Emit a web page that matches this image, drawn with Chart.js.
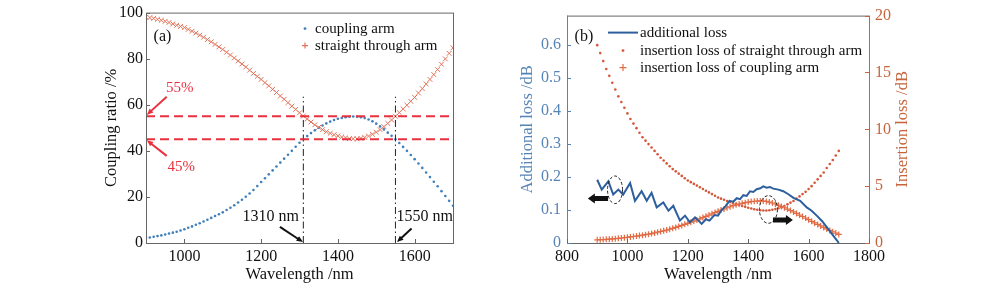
<!DOCTYPE html>
<html>
<head>
<meta charset="utf-8">
<script src="https://cdn.jsdelivr.net/npm/chart.js@4.4.1/dist/chart.umd.min.js"></script>
<style>
  html, body { margin: 0; padding: 0; background: #fff; }
  #wrap { position: relative; width: 1000px; height: 288px; }
  canvas { position: absolute; top: 0; }
</style>
</head>
<body>
<div id="wrap">
  <canvas id="chartA" width="470" height="288" style="left:0"></canvas>
  <canvas id="chartB" width="530" height="288" style="left:470px"></canvas>
</div>
<script>
// ---------- panel (a) data ----------
const wavelengths = [
  900, 910, 920, 930, 940, 950, 960, 970, 980, 990,
  1000, 1010, 1020, 1030, 1040, 1050, 1060, 1070, 1080, 1090,
  1100, 1110, 1120, 1130, 1140, 1150, 1160, 1170, 1180, 1190,
  1200, 1210, 1220, 1230, 1240, 1250, 1260, 1270, 1280, 1290,
  1300, 1310, 1320, 1330, 1340, 1350, 1360, 1370, 1380, 1390,
  1400, 1410, 1420, 1430, 1440, 1450, 1460, 1470, 1480, 1490,
  1500, 1510, 1520, 1530, 1540, 1550, 1560, 1570, 1580, 1590,
  1600, 1610, 1620, 1630, 1640, 1650, 1660, 1670, 1680, 1690,
  1700
];
const couplingArm = [
  2.2, 2.4, 2.7, 3.0, 3.3, 3.7, 4.1, 4.5, 4.9, 5.4,
  6.0, 6.6, 7.2, 7.9, 8.6, 9.3, 10.1, 10.9, 11.7, 12.5,
  13.3, 14.3, 15.3, 16.4, 17.6, 18.8, 20.1, 21.5, 23.0, 24.7,
  26.5, 28.1, 29.8, 31.5, 33.2, 34.9, 36.6, 38.3, 40.0, 41.8,
  43.5, 45.0, 46.4, 47.7, 48.9, 50.0, 51.0, 51.9, 52.7, 53.4,
  53.9, 54.3, 54.6, 54.8, 54.9, 54.8, 54.6, 54.2, 53.6, 52.8,
  51.8, 50.6, 49.3, 47.9, 46.5, 45.0, 43.4, 41.7, 40.0, 38.2,
  36.4, 34.5, 32.6, 30.6, 28.6, 26.6, 24.6, 22.5, 20.4, 18.3,
  16.2
];
const straightArm = [
  98.0, 97.8, 97.5, 97.1, 96.7, 96.2, 95.7, 95.1, 94.5, 94.0,
  93.5, 92.7, 91.9, 91.1, 90.2, 89.3, 88.3, 87.3, 86.2, 85.1,
  84.0, 82.8, 81.6, 80.3, 79.0, 77.7, 76.4, 75.0, 73.6, 72.3,
  71.0, 69.6, 68.2, 66.7, 65.3, 63.8, 62.4, 60.9, 59.4, 58.0,
  56.5, 55.1, 53.8, 52.5, 51.3, 50.2, 49.2, 48.3, 47.6, 47.0,
  46.5, 46.0, 45.6, 45.3, 45.2, 45.2, 45.4, 45.8, 46.4, 47.2,
  48.1, 49.2, 50.5, 51.9, 53.4, 55.0, 56.6, 58.2, 59.8, 61.5,
  63.2, 65.1, 67.0, 69.0, 71.0, 73.1, 75.3, 77.6, 79.9, 82.3,
  84.7
];
const xRangeA = [900, 1700];
const ratioLevels = [55, 45];       // dashed red lines
const markedWl = [1310, 1550];      // dash-dot verticals
const markTop = 63.5;
const xTicksA = [1000, 1200, 1400, 1600];
const yTicksA = [0, 20, 40, 60, 80, 100];

// ---------- panel (b) data ----------
const alWavelengths = [
  900, 915, 937, 953, 970, 986, 1009, 1025, 1047, 1064,
  1080, 1097, 1119, 1136, 1152, 1174, 1191, 1207, 1224, 1246,
  1260, 1272, 1288, 1300, 1312, 1325, 1338, 1350, 1362, 1373,
  1384, 1395, 1406, 1417, 1428, 1440, 1450, 1461, 1472, 1483,
  1500, 1516, 1533, 1550, 1572, 1594, 1610, 1627, 1645, 1660,
  1677, 1693, 1700
];
const additionalLoss = [
  0.192, 0.162, 0.187, 0.147, 0.162, 0.147, 0.182, 0.128, 0.157, 0.128,
  0.152, 0.108, 0.123, 0.098, 0.113, 0.068, 0.083, 0.063, 0.078, 0.058,
  0.072, 0.068, 0.085, 0.083, 0.100, 0.112, 0.128, 0.125, 0.136, 0.133,
  0.145, 0.143, 0.157, 0.155, 0.163, 0.166, 0.172, 0.168, 0.170, 0.165,
  0.162, 0.157, 0.148, 0.137, 0.128, 0.108, 0.098, 0.083, 0.066, 0.048,
  0.028, 0.009, 0.0
];
const ilStraight = [
  17.4, 16.7, 16.0, 15.3, 14.7, 14.1, 13.5, 12.9, 12.4, 11.9,
  11.4, 10.9, 10.5, 10.1, 9.7, 9.3, 9.0, 8.7, 8.4, 8.1,
  7.8, 7.5, 7.25, 7.0, 6.75, 6.5, 6.3, 6.1, 5.9, 5.7,
  5.5, 5.35, 5.2, 5.05, 4.9, 4.75, 4.6, 4.45, 4.3, 4.15,
  4.0, 3.9, 3.8, 3.7, 3.6, 3.5, 3.42, 3.34, 3.26, 3.18,
  3.1, 3.03, 2.97, 2.92, 2.88, 2.86, 2.86, 2.88, 2.92, 2.98,
  3.05, 3.15, 3.25, 3.4, 3.55, 3.7, 3.9, 4.1, 4.3, 4.5,
  4.75, 5.0, 5.3, 5.6, 5.9, 6.2, 6.6, 6.95, 7.3, 7.7,
  8.1
];
const ilCoupling = [
  0.28, 0.29, 0.30, 0.32, 0.34, 0.36, 0.38, 0.41, 0.44, 0.47,
  0.50, 0.53, 0.57, 0.61, 0.65, 0.69, 0.73, 0.78, 0.83, 0.89,
  0.95, 1.01, 1.07, 1.14, 1.21, 1.29, 1.37, 1.46, 1.55, 1.64,
  1.73, 1.83, 1.93, 2.03, 2.13, 2.24, 2.35, 2.46, 2.57, 2.68,
  2.79, 2.90, 3.00, 3.10, 3.19, 3.28, 3.36, 3.43, 3.49, 3.55,
  3.60, 3.64, 3.67, 3.69, 3.70, 3.69, 3.66, 3.60, 3.52, 3.43,
  3.33, 3.22, 3.10, 2.98, 2.86, 2.73, 2.60, 2.46, 2.33, 2.19,
  2.05, 1.91, 1.77, 1.63, 1.50, 1.37, 1.24, 1.11, 0.99, 0.87,
  0.75
];
const xTicksB = [800, 1000, 1200, 1400, 1600, 1800];
const yTicksBL = [0, 0.1, 0.2, 0.3, 0.4, 0.5, 0.6];
const yTicksBR = [0, 5, 10, 15, 20];

// ---------- styling ----------
const SERIF = "'Liberation Serif', 'DejaVu Serif', serif";
const BLUE_DOT = '#3f7fba';
const ORANGE_X = '#e2735a';
const RED_DASH = '#e8313f';
const BLUE_LINE = '#2d5f9e';
const BLUE_AXIS = '#5784b6';
const ORANGE_DOT = '#d4573a';
const ORANGE_PLUS = '#e26b45';
const ORANGE_AXIS = '#c6643c';

const pts = (xs, ys) => xs.map((x, i) => ({ x: x, y: ys[i] }));
const fixTicks = list => scale => { scale.ticks = list.map(v => ({ value: v })); };

function arrow(ctx, x1, y1, x2, y2, color) {
  const ang = Math.atan2(y2 - y1, x2 - x1);
  const head = 7;
  ctx.strokeStyle = color;
  ctx.fillStyle = color;
  ctx.lineWidth = 2;
  ctx.beginPath();
  ctx.moveTo(x1, y1);
  ctx.lineTo(x2 - Math.cos(ang) * head * 0.8, y2 - Math.sin(ang) * head * 0.8);
  ctx.stroke();
  ctx.beginPath();
  ctx.moveTo(x2, y2);
  ctx.lineTo(x2 - head * Math.cos(ang - 0.4), y2 - head * Math.sin(ang - 0.4));
  ctx.lineTo(x2 - head * Math.cos(ang + 0.4), y2 - head * Math.sin(ang + 0.4));
  ctx.closePath();
  ctx.fill();
}

// fat black arrow used in panel (b)
function blockArrow(ctx, xTail, xTip, y) {
  const dir = Math.sign(xTip - xTail);
  const headLen = 7;
  const xNeck = xTip - dir * headLen;
  ctx.fillStyle = '#111';
  ctx.beginPath();
  ctx.moveTo(xTail, y - 2.5);
  ctx.lineTo(xNeck, y - 2.5);
  ctx.lineTo(xNeck, y - 5);
  ctx.lineTo(xTip, y);
  ctx.lineTo(xNeck, y + 5);
  ctx.lineTo(xNeck, y + 2.5);
  ctx.lineTo(xTail, y + 2.5);
  ctx.closePath();
  ctx.fill();
}

function dashedEllipse(ctx, cx, cy, rx, ry) {
  ctx.save();
  ctx.strokeStyle = '#222';
  ctx.lineWidth = 1;
  ctx.setLineDash([3, 2]);
  ctx.beginPath();
  ctx.ellipse(cx, cy, rx, ry, 0, 0, Math.PI * 2);
  ctx.stroke();
  ctx.restore();
}

function plus(ctx, x, y, r, color) {
  ctx.strokeStyle = color;
  ctx.lineWidth = 1.2;
  ctx.beginPath();
  ctx.moveTo(x - r, y); ctx.lineTo(x + r, y);
  ctx.moveTo(x, y - r); ctx.lineTo(x, y + r);
  ctx.stroke();
}

function innerTicks(ctx, scale, edge, color) {
  ctx.strokeStyle = color;
  ctx.lineWidth = 1;
  ctx.beginPath();
  scale.ticks.forEach(t => {
    const p = Math.round(scale.getPixelForValue(t.value)) + 0.5;
    if (edge === 'bottom') { ctx.moveTo(p, scale.top); ctx.lineTo(p, scale.top - 4); }
    if (edge === 'left') { ctx.moveTo(scale.right, p); ctx.lineTo(scale.right + 4, p); }
    if (edge === 'right') { ctx.moveTo(scale.left, p); ctx.lineTo(scale.left - 4, p); }
  });
  ctx.stroke();
}

// ---------- panel (a) ----------
const decorA = {
  id: 'decorA',
  afterDraw(chart) {
    const { ctx, chartArea: a } = chart;
    const sx = chart.scales.x, sy = chart.scales.y;
    const X = v => sx.getPixelForValue(v), Y = v => sy.getPixelForValue(v);
    ctx.save();
    ctx.strokeStyle = '#666';
    ctx.lineWidth = 1;
    ctx.strokeRect(a.left + 0.5, a.top + 0.5, a.right - a.left, a.bottom - a.top);
    innerTicks(ctx, sx, 'bottom', '#666');
    innerTicks(ctx, sy, 'left', '#666');

    ctx.textAlign = 'center';
    ctx.textBaseline = 'middle';
    ctx.fillStyle = '#111';
    ctx.font = '16px ' + SERIF;
    ctx.fillText('(a)', X(943), Y(89.7));

    // 55% / 45% labels
    ctx.font = '15px ' + SERIF;
    ctx.fillStyle = RED_DASH;
    ctx.fillText('55%', X(988), Y(67.4));
    ctx.fillText('45%', X(992), Y(33));
    arrow(ctx, X(954), Y(63.5), X(902), Y(55.6), RED_DASH);
    arrow(ctx, X(954), Y(37.8), X(902), Y(44.6), RED_DASH);

    // wavelength markers
    ctx.font = '16px ' + SERIF;
    ctx.fillStyle = '#111';
    ctx.fillText('1310 nm', X(1225), Y(11.3));
    ctx.fillText('1550 nm', X(1626), Y(11.3));
    arrow(ctx, X(1249), Y(7.0), X(1309), Y(0.4), '#111');
    arrow(ctx, X(1592), Y(6.3), X(1554), Y(0.4), '#111');

    // legend
    const lx = a.right - 148, ly = a.top + 16;
    ctx.textAlign = 'left';
    ctx.font = '15px ' + SERIF;
    ctx.fillStyle = BLUE_DOT;
    ctx.beginPath(); ctx.arc(lx, ly, 1.4, 0, Math.PI * 2); ctx.fill();
    plus(ctx, lx, ly + 17, 3, ORANGE_X);
    ctx.fillStyle = '#111';
    ctx.fillText(chart.data.datasets[3].label, lx + 10, ly);
    ctx.fillText(chart.data.datasets[2].label, lx + 10, ly + 17);
    ctx.restore();
  }
};

const tickFont = { family: SERIF, size: 16 };
const titleFont = { family: SERIF, size: 16.5 };

new Chart(document.getElementById('chartA'), {
  type: 'line',
  data: {
    datasets: [
      ...ratioLevels.map(v => ({
        label: 'level ' + v, data: pts(xRangeA, [v, v]), borderColor: RED_DASH,
        borderWidth: 2, borderDash: [9, 5], pointRadius: 0, order: 0
      })),
      { label: 'straight through arm', data: pts(wavelengths, straightArm), showLine: false,
        pointStyle: 'crossRot', pointRadius: 3.4, borderColor: ORANGE_X, pointBorderWidth: 1, order: 2 },
      { label: 'coupling arm', data: pts(wavelengths, couplingArm), showLine: false,
        pointStyle: 'circle', pointRadius: 1.3, backgroundColor: BLUE_DOT, borderColor: BLUE_DOT,
        pointBorderWidth: 0, order: 3 },
      ...markedWl.map(w => ({
        label: w + ' nm', data: pts([w, w], [0, markTop]), borderColor: '#222',
        borderWidth: 1, borderDash: [7, 3, 1.5, 3], pointRadius: 0, order: 1
      }))
    ]
  },
  options: {
    responsive: false,
    animation: false,
    layout: { padding: { top: 10, right: 17, left: 0, bottom: 0 } },
    plugins: { legend: { display: false }, tooltip: { enabled: false } },
    scales: {
      x: {
        type: 'linear', min: xRangeA[0], max: xRangeA[1],
        afterBuildTicks: fixTicks(xTicksA),
        afterFit: s => { s.height = 45; },
        grid: { display: false, drawTicks: false }, border: { display: false },
        ticks: { font: tickFont, color: '#111', padding: 4, callback: v => String(v) },
        title: { display: true, text: 'Wavelength /nm', font: titleFont, color: '#111', padding: { bottom: 3 } }
      },
      y: {
        min: 0, max: 100,
        afterBuildTicks: fixTicks(yTicksA),
        afterFit: s => { s.width = 146; },
        grid: { display: false, drawTicks: false }, border: { display: false },
        ticks: { font: tickFont, color: '#111', padding: 3, callback: v => String(v) },
        title: { display: true, text: 'Coupling ratio /%', font: titleFont, color: '#111', padding: { top: 102 } }
      }
    }
  },
  plugins: [decorA]
});

// ---------- panel (b) ----------
const decorB = {
  id: 'decorB',
  afterDraw(chart) {
    const { ctx, chartArea: a } = chart;
    const sx = chart.scales.x, yl = chart.scales.yL, yr = chart.scales.yR;
    const X = v => sx.getPixelForValue(v), YR = v => yr.getPixelForValue(v);
    ctx.save();
    ctx.lineWidth = 1;
    ctx.strokeStyle = '#666';
    ctx.beginPath();
    ctx.moveTo(a.left, a.top + 0.5); ctx.lineTo(a.right, a.top + 0.5);
    ctx.moveTo(a.left, a.bottom + 0.5); ctx.lineTo(a.right, a.bottom + 0.5);
    ctx.stroke();
    ctx.strokeStyle = BLUE_AXIS;
    ctx.beginPath(); ctx.moveTo(a.left + 0.5, a.top); ctx.lineTo(a.left + 0.5, a.bottom + 1); ctx.stroke();
    ctx.strokeStyle = ORANGE_AXIS;
    ctx.beginPath(); ctx.moveTo(a.right + 0.5, a.top); ctx.lineTo(a.right + 0.5, a.bottom + 1); ctx.stroke();
    innerTicks(ctx, sx, 'bottom', '#666');
    innerTicks(ctx, yl, 'left', BLUE_AXIS);
    innerTicks(ctx, yr, 'right', ORANGE_AXIS);

    // right axis title, reading bottom to top like the left one
    ctx.save();
    ctx.translate(yr.right - 97, (a.top + a.bottom) / 2);
    ctx.rotate(-Math.PI / 2);
    ctx.textAlign = 'center';
    ctx.textBaseline = 'middle';
    ctx.font = '16.5px ' + SERIF;
    ctx.fillStyle = ORANGE_AXIS;
    ctx.fillText('Insertion loss /dB', 0, 0);
    ctx.restore();

    ctx.textAlign = 'center';
    ctx.textBaseline = 'middle';
    ctx.fillStyle = '#111';
    ctx.font = '16px ' + SERIF;
    ctx.fillText('(b)', X(856), YR(18.1));

    // highlight circles and direction arrows
    dashedEllipse(ctx, X(959), YR(4.68), 7.5, 13.8);
    blockArrow(ctx, X(936), X(869), YR(3.92));
    dashedEllipse(ctx, X(1467), YR(2.95), 9, 13.8);
    blockArrow(ctx, X(1482), X(1548), YR(2.03));

    // legend
    const lx = a.left + 41, ly = a.top + 17;
    ctx.strokeStyle = BLUE_LINE;
    ctx.lineWidth = 2;
    ctx.beginPath(); ctx.moveTo(lx, ly); ctx.lineTo(lx + 30, ly); ctx.stroke();
    ctx.fillStyle = ORANGE_DOT;
    ctx.beginPath(); ctx.arc(lx + 15, ly + 18, 1.4, 0, Math.PI * 2); ctx.fill();
    plus(ctx, lx + 15, ly + 35, 3.5, ORANGE_PLUS);
    ctx.textAlign = 'left';
    ctx.font = '15px ' + SERIF;
    ctx.fillStyle = '#111';
    const ds = chart.data.datasets;
    ctx.fillText(ds[0].label, lx + 32, ly);
    ctx.fillText(ds[1].label, lx + 32, ly + 18);
    ctx.fillText(ds[2].label, lx + 32, ly + 35);
    ctx.restore();
  }
};

new Chart(document.getElementById('chartB'), {
  type: 'line',
  data: {
    datasets: [
      { label: 'additional loss', data: pts(alWavelengths, additionalLoss), yAxisID: 'yL',
        borderColor: BLUE_LINE, borderWidth: 2, pointRadius: 0, tension: 0, order: 0 },
      { label: 'insertion loss of straight through arm', data: pts(wavelengths, ilStraight), yAxisID: 'yR',
        showLine: false, pointStyle: 'circle', pointRadius: 1.3, backgroundColor: ORANGE_DOT,
        borderColor: ORANGE_DOT, pointBorderWidth: 0, order: 2 },
      { label: 'insertion loss of coupling arm', data: pts(wavelengths, ilCoupling), yAxisID: 'yR',
        showLine: false, pointStyle: 'cross', pointRadius: 3, borderColor: ORANGE_PLUS,
        pointBorderWidth: 1.2, order: 1 }
    ]
  },
  options: {
    responsive: false,
    animation: false,
    layout: { padding: { top: 10, right: 0, left: 0, bottom: 0 } },
    plugins: { legend: { display: false }, tooltip: { enabled: false } },
    scales: {
      x: {
        type: 'linear', min: 800, max: 1800,
        afterBuildTicks: fixTicks(xTicksB),
        afterFit: s => { s.height = 45; },
        grid: { display: false, drawTicks: false }, border: { display: false },
        ticks: { font: tickFont, color: '#111', padding: 4, callback: v => String(v) },
        title: { display: true, text: 'Wavelength /nm', font: titleFont, color: '#111', padding: { bottom: 3 } }
      },
      yL: {
        position: 'left', min: 0, max: 0.69,
        afterBuildTicks: fixTicks(yTicksBL),
        afterFit: s => { s.width = 97; },
        grid: { display: false, drawTicks: false }, border: { display: false },
        ticks: { font: tickFont, color: BLUE_AXIS, padding: 6, callback: v => String(v) },
        title: { display: true, text: 'Additional loss /dB', font: titleFont, color: BLUE_AXIS, padding: { top: 48 } }
      },
      yR: {
        position: 'right', min: 0, max: 20,
        afterBuildTicks: fixTicks(yTicksBR),
        afterFit: s => { s.width = 131; },
        grid: { display: false, drawTicks: false }, border: { display: false },
        ticks: { font: tickFont, color: ORANGE_AXIS, padding: 6, callback: v => String(v) },
        title: { display: false }
      }
    }
  },
  plugins: [decorB]
});
</script>
</body>
</html>
